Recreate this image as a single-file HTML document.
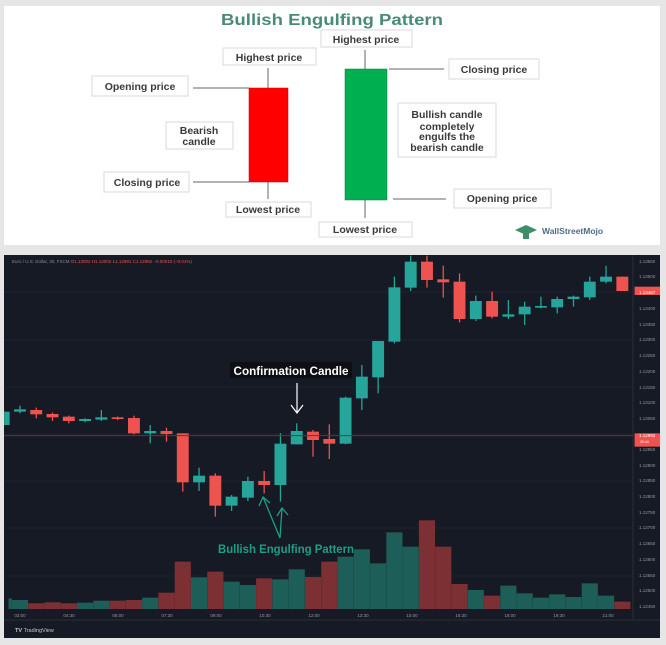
<!DOCTYPE html>
<html><head><meta charset="utf-8"><style>
html,body{margin:0;padding:0;background:#e6e6e6;}
body{width:666px;height:645px;position:relative;overflow:hidden;font-family:"Liberation Sans",sans-serif;}
svg{position:absolute;left:0;}
</style></head><body>
<svg width="666" height="645" viewBox="0 0 666 645" style="top:0">
<rect x="4" y="6" width="656" height="239" fill="#fff"/>
<rect x="4" y="255" width="656" height="383" fill="#161a25"/>
<g stroke="#1e2230" stroke-width="1">
<line x1="4" y1="292" x2="633" y2="292"/><line x1="4" y1="340" x2="633" y2="340"/><line x1="4" y1="387" x2="633" y2="387"/><line x1="4" y1="434" x2="633" y2="434"/><line x1="4" y1="481" x2="633" y2="481"/><line x1="4" y1="528" x2="633" y2="528"/><line x1="4" y1="576" x2="633" y2="576"/>
</g>
<line x1="4" y1="620" x2="660" y2="620" stroke="#2a2e39"/>
<line x1="633" y1="255" x2="633" y2="620" stroke="#2a2e39"/>
<g fill="#fff" stroke="#d8d8d8" stroke-width="1">
<rect x="223" y="48" width="93" height="17"/>
<rect x="92" y="76" width="96" height="20"/>
<rect x="166" y="122" width="67" height="27"/>
<rect x="104" y="172" width="85" height="20"/>
<rect x="226" y="202" width="85" height="15"/>
<rect x="321" y="30" width="91" height="17"/>
<rect x="449" y="59" width="90" height="20"/>
<rect x="398" y="103" width="98" height="54"/>
<rect x="454" y="189" width="97" height="19"/>
<rect x="319" y="222" width="93" height="15"/>
</g>
<g stroke="#666" stroke-width="1">
<line x1="268" y1="68" x2="268" y2="199"/>
<line x1="193" y1="88" x2="249" y2="88"/>
<line x1="193" y1="182" x2="249" y2="182"/>
<line x1="365" y1="50" x2="365" y2="218"/>
<line x1="389" y1="69" x2="444" y2="69"/>
<line x1="393" y1="199" x2="446" y2="199"/>
</g>
<rect x="249" y="88" width="39" height="94" fill="#ff0000" stroke="#c00" stroke-width="0.5"/>
<rect x="345" y="69" width="42" height="131" fill="#00b050" stroke="#08803c" stroke-width="0.5"/>
<g font-family="Liberation Sans, sans-serif" font-weight="bold" fill="#3a3a3a" font-size="10.5" text-anchor="middle">
<text x="332" y="25" font-size="16" fill="#4a8a78" textLength="222" lengthAdjust="spacingAndGlyphs">Bullish Engulfing Pattern</text>
<text x="269" y="61">Highest price</text>
<text x="140" y="90">Opening price</text>
<text x="199" y="134">Bearish</text>
<text x="199" y="145">candle</text>
<text x="147" y="186">Closing price</text>
<text x="268" y="213">Lowest price</text>
<text x="366" y="43">Highest price</text>
<text x="494" y="73">Closing price</text>
<text x="447" y="118">Bullish candle</text>
<text x="447" y="130">completely</text>
<text x="447" y="140">engulfs the</text>
<text x="447" y="151">bearish candle</text>
<text x="502" y="202">Opening price</text>
<text x="365" y="233">Lowest price</text>
<text x="542" y="234" text-anchor="start" font-size="8.5" fill="#4a6d8a">WallStreetMojo</text>
</g>
<path d="M515 230 L526 225 L537 230 L526 235 Z" fill="#3d8f6a"/>
<rect x="523" y="232" width="6" height="7" fill="#3d8f6a"/>
</svg>

<svg width="666" height="400" viewBox="0 0 1568 1200" preserveAspectRatio="none" style="top:245px">
<defs><clipPath id="cp"><rect x="10" y="30" width="1480" height="1100"/></clipPath></defs>
<g clip-path="url(#cp)"><g id="vol"></g><g id="cdl"></g></g>
<line x1="10" y1="572" x2="1490" y2="572" stroke="#7a2b2e" stroke-width="1" vector-effect="non-scaling-stroke"/>
<rect x="1494" y="565" width="60" height="40" fill="#ef5350"/>
<rect x="1494" y="125" width="60" height="25" fill="#ef5350"/>
</svg>

<svg width="666" height="645" viewBox="0 0 666 645" style="top:0">
<g font-family="Liberation Sans, sans-serif" font-size="4.5" fill="#9598a1">
<text x="12" y="263" fill="#8a8d96">Euro / U.S. Dollar, 30, FXCM <tspan fill="#ef5350">O1.13002 H1.13002 L1.12981 C1.12992 −0.00010 (−0.01%)</tspan></text>
<g text-anchor="start">
<text x="639" y="263">1.13550</text><text x="639" y="278">1.13500</text><text x="639" y="310">1.13400</text><text x="639" y="326">1.13350</text><text x="639" y="341">1.13300</text><text x="639" y="357">1.13250</text><text x="639" y="373">1.13200</text><text x="639" y="389">1.13150</text><text x="639" y="404">1.13100</text><text x="639" y="420">1.13050</text><text x="639" y="451">1.12950</text><text x="639" y="467">1.12900</text><text x="639" y="482">1.12850</text><text x="639" y="498">1.12800</text><text x="639" y="514">1.12750</text><text x="639" y="529">1.12700</text><text x="639" y="545">1.12650</text><text x="639" y="561">1.12600</text><text x="639" y="577">1.12550</text><text x="639" y="592">1.12500</text><text x="639" y="608">1.12450</text>
<text x="639" y="294" fill="#fff">1.13457</text><text x="639" y="437" fill="#fff">1.12992</text><text x="640" y="443" fill="#fff" font-size="3.5">29:44</text>
</g>
<g text-anchor="middle">
<text x="20" y="617">03:00</text><text x="69" y="617">04:30</text><text x="118" y="617">06:00</text><text x="167" y="617">07:30</text><text x="216" y="617">09:00</text><text x="265" y="617">10:30</text><text x="314" y="617">12:00</text><text x="363" y="617">13:30</text><text x="412" y="617">15:00</text><text x="461" y="617">16:30</text><text x="510" y="617">18:00</text><text x="559" y="617">19:30</text><text x="608" y="617">21:00</text>
</g>
<text x="15" y="632" font-size="5.5" fill="#c8c8c8" font-weight="bold">TV <tspan font-weight="normal">TradingView</tspan></text>
</g>
<rect x="230" y="362" width="122" height="16" fill="#0d0f14"/>
<text x="291" y="375" font-family="Liberation Sans, sans-serif" font-weight="bold" font-size="12" fill="#fff" text-anchor="middle" textLength="115" lengthAdjust="spacingAndGlyphs">Confirmation Candle</text>
<line x1="297" y1="383" x2="297" y2="412" stroke="#fff" stroke-width="1.2"/>
<path d="M291 405 L297 413 L303 405" fill="none" stroke="#fff" stroke-width="1.2"/>
<text x="286" y="553" font-family="Liberation Sans, sans-serif" font-weight="bold" font-size="12" fill="#1e9e86" text-anchor="middle" textLength="136" lengthAdjust="spacingAndGlyphs">Bullish Engulfing Pattern</text>
<g stroke="#1e9e86" stroke-width="1.3" fill="none">
<path d="M280 538 L263 497"/><path d="M259 506 L263 497 L270 503"/>
<path d="M280 538 L282 508"/><path d="M277 516 L282 508 L288 515"/>
</g>
</svg>

<script>
const G="#26a69a",R="#ef5350",VG="#1d5e58",VR="#7d3033";
const c=[[-1,'g',500,540,495,545],[0,'g',493,500,482,505],[1,'r',495,508,488,520],[2,'r',507,517,503,528],[3,'r',515,528,512,535],[4,'g',522,528,520,532],[5,'g',517,524,495,528],[6,'r',517,522,515,525],[7,'r',519,565,512,568],[8,'g',558,565,540,595],[9,'r',558,567,548,590],[10,'r',565,712,565,740],[11,'g',692,712,668,738],[12,'r',692,782,685,815],[13,'g',755,782,750,798],[14,'g',708,758,695,768],[15,'r',708,720,678,745],[16,'g',596,720,565,770],[17,'g',558,598,535,598],[18,'r',560,585,555,635],[19,'r',582,596,538,642],[20,'g',458,596,455,598],[21,'g',395,460,360,495],[22,'g',288,397,288,445],[23,'g',127,290,95,295],[24,'g',50,128,32,138],[25,'r',50,105,32,128],[26,'r',103,112,62,158],[27,'r',110,222,85,232],[28,'g',168,222,152,228],[29,'r',168,215,140,220],[30,'g',208,215,165,222],[31,'g',185,208,170,240],[32,'g',183,188,155,190],[33,'g',162,187,155,205],[34,'g',155,162,152,185],[35,'g',110,157,95,165],[36,'g',95,110,62,115],[37,'r',95,138,95,138]];
const v=[1060,1065,1075,1072,1075,1073,1067,1067,1065,1058,1043,950,997,980,1010,1020,1000,1003,973,996,950,935,913,955,862,905,826,905,1017,1035,1052,1022,1045,1058,1048,1056,1015,1052,1070];
let cs="",vs="";
c.forEach((d,k)=>{const x=47+38.33*d[0];const col=d[1]=='g'?G:R;
 cs+=`<line x1="${x}" x2="${x}" y1="${d[4]}" y2="${d[5]}" stroke="${col}" stroke-width="3"/>`;
 cs+=`<rect x="${x-14}" y="${d[2]}" width="28" height="${Math.max(d[3]-d[2],4)}" fill="${col}"/>`;
 const top=v[k];let x0=x-19,w=38;if(d[0]<0){x0=20;w=8;}
 vs+=`<rect x="${x0}" y="${top}" width="${w}" height="${1092-top}" fill="${d[1]=='g'?VG:VR}"/>`;});
document.getElementById('cdl').innerHTML=cs;document.getElementById('vol').innerHTML=vs;
</script>
</body></html>
